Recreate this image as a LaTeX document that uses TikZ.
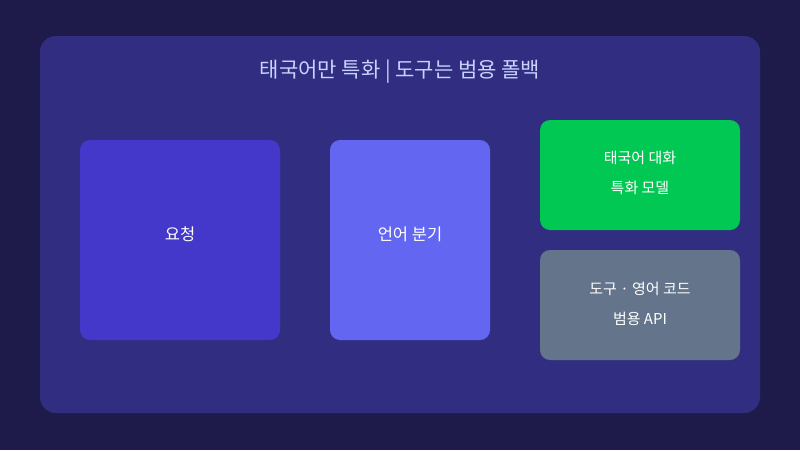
\documentclass[tikz,border=0pt]{standalone}
\usepackage{fontspec}
\setmainfont{Noto Sans CJK KR}
\definecolor{bgc}{HTML}{1E1B4B}
\definecolor{panelc}{HTML}{312E81}
\definecolor{titlec}{HTML}{C7D2FE}
\definecolor{reqc}{HTML}{4338CA}
\definecolor{langc}{HTML}{6366F1}
\definecolor{thaic}{HTML}{00C853}
\definecolor{toolc}{HTML}{64748B}
\begin{document}
\begin{tikzpicture}[x=1pt,y=-1pt,
  boxs/.style={rounded corners=10pt,inner sep=0pt,text=white,font=\fontsize{16.5}{18}\selectfont,align=center},
  smalls/.style={boxs,font=\fontsize{15}{30}\selectfont}]
\fill[bgc] (0,0) rectangle (800,450);
\useasboundingbox (0,0) rectangle (800,450);
\fill[panelc,rounded corners=16pt] (40,36) rectangle (760,413);
\node[text=titlec,font=\fontsize{21}{24}\selectfont] (title) at (400,72) {태국어만 특화 | 도구는 범용 폴백};
\node[boxs,fill=reqc,minimum width=200pt,minimum height=200pt] (req) at (180,240) {};
\node[boxs] (reqt) at (180,234) {요청};
\node[boxs,fill=langc,minimum width=160pt,minimum height=200pt] (lang) at (410,240) {};
\node[boxs] (langt) at (410,234) {언어 분기};
\node[smalls,fill=thaic,minimum width=200pt,minimum height=110pt] (thai) at (640,175) {};
\node[smalls] (thait) at (640,173) {태국어 대화\\특화 모델};
\node[smalls,fill=toolc,minimum width=200pt,minimum height=110pt] (tool) at (640,305) {};
\node[smalls] (toolt) at (640,304) {도구 · 영어 코드\\범용 API};
\end{tikzpicture}
\end{document}
